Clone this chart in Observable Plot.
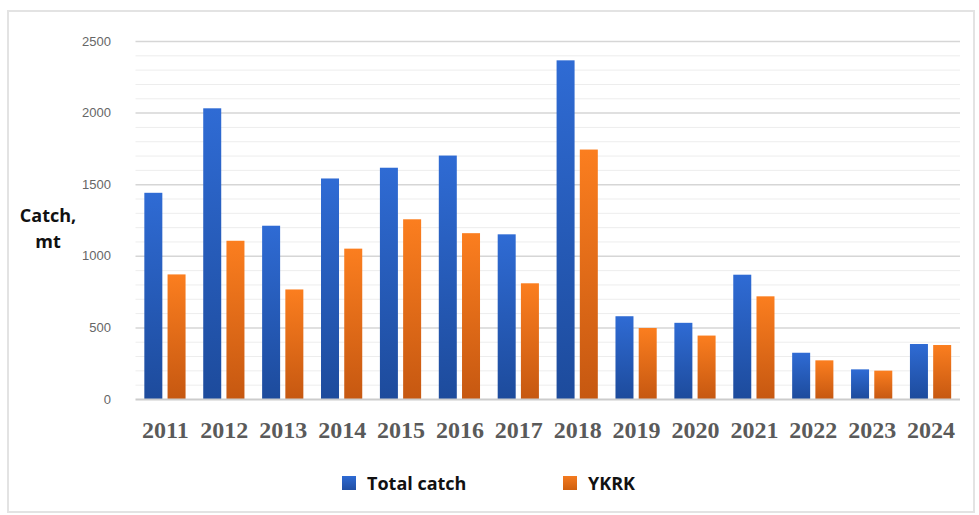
<!DOCTYPE html>
<html><head><meta charset="utf-8">
<script src="https://cdn.jsdelivr.net/npm/d3@7"></script>
<script src="https://cdn.jsdelivr.net/npm/@observablehq/plot@0.6"></script>
<style>
html,body{margin:0;padding:0;background:#fff;}
#wrap{position:relative;width:979px;height:515px;overflow:hidden;background:#fff;}
#frame{position:absolute;left:7px;top:10px;width:968px;height:503px;border:2px solid #e3e3e3;box-sizing:border-box;}
#chart{position:absolute;left:0;top:0;}
#ylabel{position:absolute;left:8px;top:202px;width:80px;text-align:center;font-family:"Open Sans";font-weight:bold;font-size:18px;line-height:26px;color:#111;}
.leg{position:absolute;top:473px;height:20px;display:flex;align-items:center;font-family:"Open Sans";font-weight:bold;font-size:18px;color:#111;white-space:nowrap;}
.sw{width:14px;height:14px;margin-right:11px;}
</style>
</head><body>
<div id="wrap">
  <div id="frame"></div>
  <div id="chart"></div>
  <div id="ylabel">Catch,<br>mt</div>
  <div class="leg" style="left:342px"><div class="sw" style="background:linear-gradient(#2e6ad3,#214fa3)"></div>Total catch</div>
  <div class="leg" style="left:563px"><div class="sw" style="background:linear-gradient(#f47a1f,#d0600f)"></div>YKRK</div>
</div>
<script>
const years = ["2011","2012","2013","2014","2015","2016","2017","2018","2019","2020","2021","2022","2023","2024"];
const totalCatch = [1440, 2030, 1210, 1540, 1615, 1700, 1150, 2365, 578, 532, 868, 323, 207, 384];
const ykrk = [870, 1105, 765, 1050, 1255, 1158, 808, 1742, 496, 443, 717, 270, 198, 377];
const seriesNames = ["Total catch", "YKRK"];
const yTicks = [0, 500, 1000, 1500, 2000, 2500];
const minorTicks = d3.range(100, 2600, 100).filter(v => v % 500 !== 0);

const rows = years.flatMap((yr, i) => [
  {year: yr, series: seriesNames[0], value: totalCatch[i]},
  {year: yr, series: seriesNames[1], value: ykrk[i]}
]);

const W = 979, H = 450, mL = 135.5, mR = 19, mT = 41, mB = 51;
const padIn = 0.3, padOut = 0.15, barW = 18;
const step = (W - mL - mR) / (years.length - padIn + 2 * padOut);
const bw = step * (1 - padIn);
const inset = bw - barW;

const chart = Plot.plot({
  width: W, height: H,
  marginLeft: mL, marginRight: mR, marginTop: mT, marginBottom: mB,
  style: {background: "transparent", overflow: "visible"},
  x: {type: "band", domain: years, paddingInner: padIn, paddingOuter: padOut, round: false, axis: null},
  y: {domain: [0, 2500], axis: null},
  marks: [
    Plot.ruleY(minorTicks, {stroke: "#ededed", strokeWidth: 1}),
    Plot.ruleY(yTicks.filter(v => v > 0), {stroke: "#d6d6d6", strokeWidth: 1.5}),
    Plot.barY(rows.filter(d => d.series === seriesNames[0]), {x: "year", y: "value", fill: "url(#gBlue)", insetRight: inset, insetLeft: 0}),
    Plot.barY(rows.filter(d => d.series === seriesNames[1]), {x: "year", y: "value", fill: "url(#gOrange)", insetLeft: inset, insetRight: 0}),
    Plot.ruleY([0], {stroke: "#cccccc", strokeWidth: 2}),
    Plot.axisX({tickSize: 0, tickPadding: 21, fontSize: 24, fontFamily: "Liberation Serif", fontWeight: "bold", fill: "#5a5a5a", label: null}),
    Plot.axisY(yTicks, {tickSize: 0, tickPadding: 25, fontSize: 13, fontFamily: "Liberation Sans", fill: "#666", tickFormat: d => String(d), label: null})
  ]
});

const svg = d3.select(chart);
const defs = svg.insert("defs", ":first-child");
function grad(id, c0, c1) {
  const g = defs.append("linearGradient").attr("id", id).attr("x1", 0).attr("y1", 0).attr("x2", 0).attr("y2", 1);
  g.append("stop").attr("offset", "0%").attr("stop-color", c0);
  g.append("stop").attr("offset", "100%").attr("stop-color", c1);
}
grad("gBlue", "#2f6bd4", "#1d4b9c");
grad("gOrange", "#fb7e1f", "#c65811");
document.getElementById("chart").appendChild(chart);
</script>
</body></html>
